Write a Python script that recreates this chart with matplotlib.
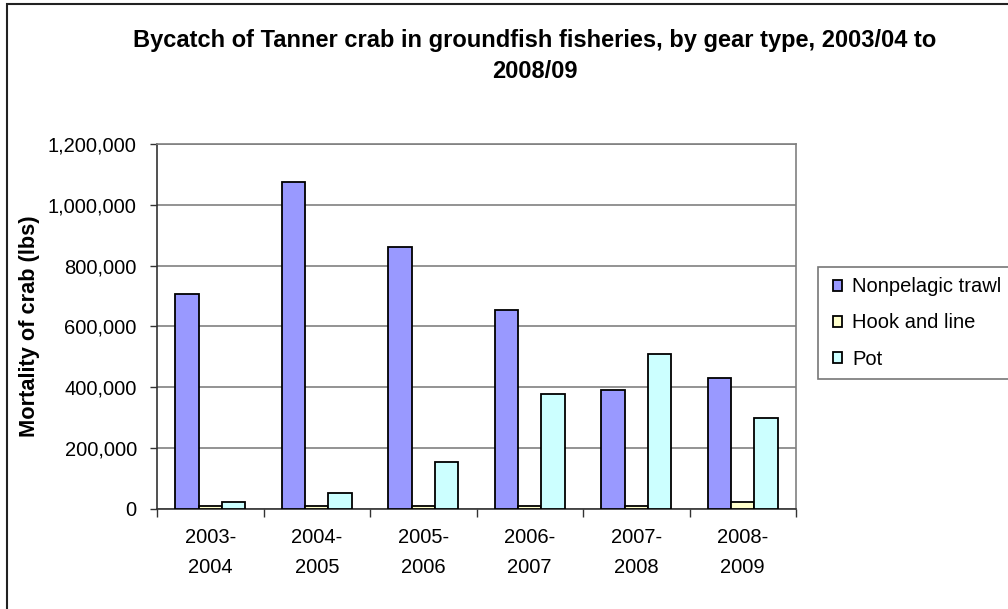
import matplotlib.pyplot as plt
import numpy as np
from matplotlib.patches import Rectangle

# Data
seasons = ['2003-\n2004', '2004-\n2005', '2005-\n2006', '2006-\n2007', '2007-\n2008', '2008-\n2009']
nonpelagic_trawl = [705000, 1075000, 862000, 653000, 391000, 429000]
hook_and_line = [7000, 7000, 7000, 7000, 7000, 20000]
pot = [23000, 52000, 154000, 377000, 509000, 299000]

series_names = ['Nonpelagic trawl', 'Hook and line', 'Pot']
series_colors = ['#9999FF', '#FFFFCC', '#CCFFFF']

plt.rcParams['font.family'] = ['Liberation Sans', 'DejaVu Sans']

W, H = 1008, 609
fig = plt.figure(figsize=(W / 100, H / 100), dpi=100)

# axes placed in pixel terms
left, right, top, bottom = 157, 796, 144, 508.5
ax = fig.add_axes([left / W, 1 - bottom / H, (right - left) / W, (bottom - top) / H])

x = np.arange(len(seasons))
w = 0.22
for i, (vals, name, col) in enumerate(zip([nonpelagic_trawl, hook_and_line, pot], series_names, series_colors)):
    ax.bar(x + (i - 1) * w, vals, width=w, color=col, edgecolor='black', linewidth=1.3,
           label=name, zorder=3)

ax.set_xlim(-0.5, len(seasons) - 0.5)
ax.set_ylim(0, 1200000)
ax.set_yticks(np.arange(0, 1200001, 200000))
ax.set_yticklabels(['{:,}'.format(v) for v in range(0, 1200001, 200000)], fontsize=14.5)
ax.yaxis.grid(True, color='#808080', linewidth=1.2, zorder=0)

ax.set_xticks(np.arange(-0.5, len(seasons), 1.0))
ax.set_xticklabels([])
ax.set_xticks(x, minor=True)
ax.set_xticklabels(seasons, minor=True, fontsize=14.5, linespacing=1.75)
ax.tick_params(axis='x', which='minor', length=0, pad=14)
ax.tick_params(axis='x', which='major', length=6, width=1, color='#333333', direction='out')
ax.tick_params(axis='y', length=5, width=1, color='#333333', direction='out', pad=9.5)

for s in ['top', 'right']:
    ax.spines[s].set_color('#808080')
    ax.spines[s].set_linewidth(1.2)
for s in ['left', 'bottom']:
    ax.spines[s].set_color('#333333')
    ax.spines[s].set_linewidth(1.2)

ax.set_ylabel('Mortality of crab (lbs)', fontsize=15.7, fontweight='bold', labelpad=6)

fig.text(535 / W, 1 - 40 / H, 'Bycatch of Tanner crab in groundfish fisheries, by gear type, 2003/04 to',
         ha='center', va='center', fontsize=17, fontweight='bold')
fig.text(535 / W, 1 - 72 / H, '2008/09', ha='center', va='center', fontsize=17, fontweight='bold')

leg = fig.legend(loc='upper left', bbox_to_anchor=(817.7 / W, 1 - 267.3 / H), frameon=True,
                 fontsize=14.5, handlelength=0.45, handleheight=0.45, handletextpad=0.75,
                 labelspacing=0.85, borderpad=0.5, borderaxespad=0, fancybox=False)
leg.get_frame().set_edgecolor('#555555')
leg.get_frame().set_linewidth(1.2)
for p in leg.get_patches():
    p.set_linewidth(1.3)
    p.set_x(p.get_x() + 3.6)

# outer chart border (right and bottom fall outside the picture)
fig.patches.append(Rectangle((7.3 / W, -0.05), 1.1, 1 - 3.5 / H + 0.05, transform=fig.transFigure,
                             fill=False, edgecolor='#222222', linewidth=1.5))

fig.savefig('out.png', dpi=100)
